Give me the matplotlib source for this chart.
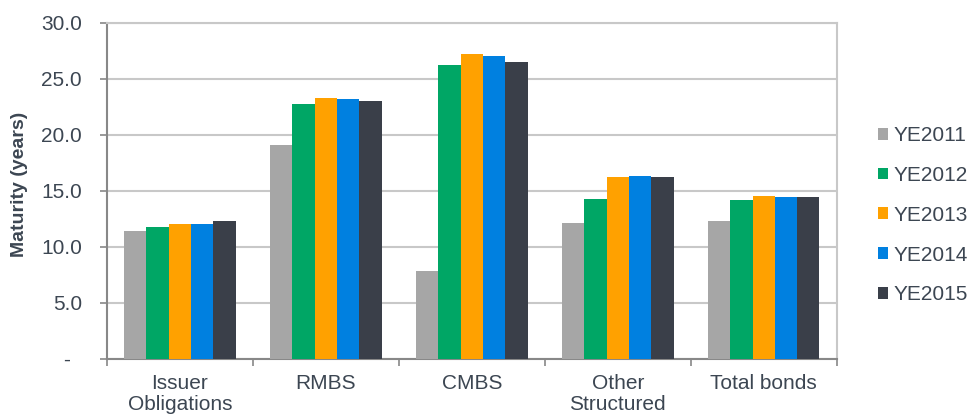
import matplotlib.pyplot as plt
import numpy as np
from matplotlib.ticker import FixedLocator

plt.rcParams['font.family'] = ['Liberation Sans', 'DejaVu Sans']

categories = ["Issuer\nObligations", "RMBS", "CMBS", "Other\nStructured", "Total bonds"]
years = ["YE2011", "YE2012", "YE2013", "YE2014", "YE2015"]
ye2011 = [11.4, 19.1, 7.8, 12.1, 12.3]
ye2012 = [11.8, 22.7, 26.2, 14.3, 14.2]
ye2013 = [12.0, 23.3, 27.2, 16.2, 14.5]
ye2014 = [12.0, 23.2, 27.0, 16.3, 14.4]
ye2015 = [12.3, 23.0, 26.5, 16.2, 14.4]
series = [ye2011, ye2012, ye2013, ye2014, ye2015]
colors = ["#A6A6A6", "#00A665", "#FFA100", "#0080E0", "#3A3F49"]
txt = "#3C4652"

fig = plt.figure(figsize=(9.69, 4.2), dpi=100)
ax = fig.add_axes([0.1104, 0.146, 0.753, 0.8])

x = np.arange(len(categories))
w = 0.153
for i, (vals, c, lab) in enumerate(zip(series, colors, years)):
    ax.bar(x + (i - 2) * w, vals, width=w, color=c, label=lab, zorder=3)

ax.set_xlim(-0.5, len(categories) - 0.5)
ax.set_ylim(0, 30)
ax.set_yticks(np.arange(0, 31, 5))
ax.set_yticklabels(["-  "] + [f"{v:.1f}" for v in np.arange(5, 31, 5)])
ax.set_xticks(x)
ax.set_xticklabels(categories, linespacing=1.15)
ax.xaxis.set_minor_locator(FixedLocator(np.arange(-0.5, len(categories), 1)))
ax.tick_params(axis='x', which='major', length=0, pad=11, labelsize=15, labelcolor=txt)
ax.tick_params(axis='x', which='minor', length=5, width=1.2, color="#888888", direction='out')
ax.tick_params(axis='y', length=5, width=1.2, color="#888888", pad=13, labelsize=15, labelcolor=txt)

ax.grid(axis='y', color="#C8C8C8", linewidth=1.5, zorder=0)
for s in ['top', 'right']:
    ax.spines[s].set_color("#C8C8C8")
    ax.spines[s].set_linewidth(1.5)
for s in ['left', 'bottom']:
    ax.spines[s].set_color("#888888")
    ax.spines[s].set_linewidth(1.5)

ax.set_ylabel("Maturity (years)", fontsize=14, fontweight='bold', color=txt)
ax.yaxis.set_label_coords(-0.1083, 0.52)

leg = ax.legend(loc='center left', bbox_to_anchor=(1.0566, 0.427), frameon=False,
                fontsize=15, handlelength=0.5, handleheight=0.5, handletextpad=0.25,
                labelspacing=1.0, borderpad=0, borderaxespad=0)
for t in leg.get_texts():
    t.set_color(txt)

fig.savefig("out.png", dpi=100)
